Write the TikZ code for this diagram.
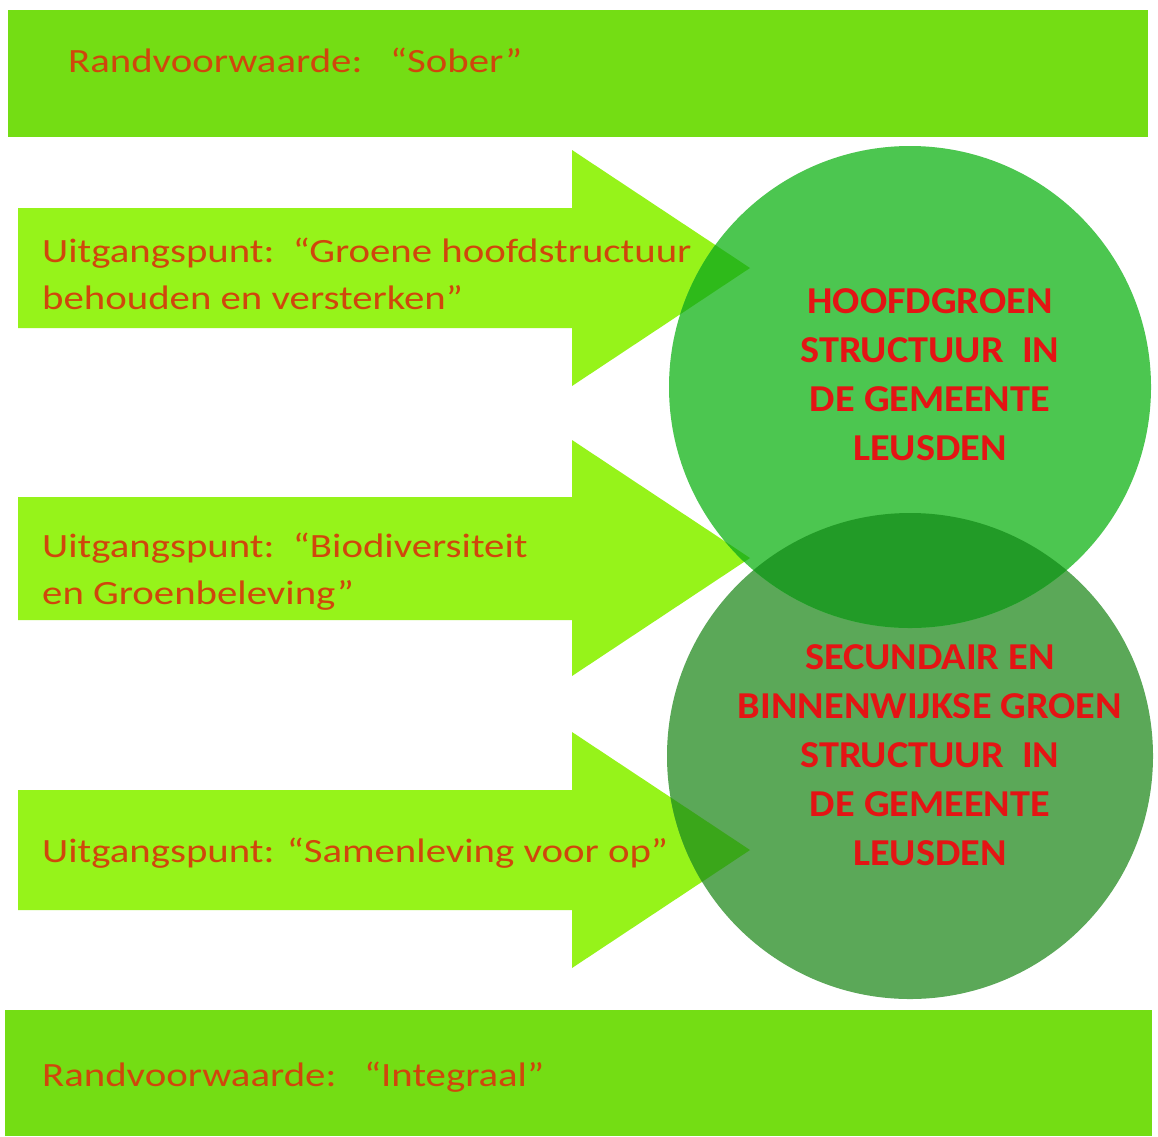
\documentclass[tikz,border=0pt]{standalone}
\usepackage{fontspec}
\setmainfont{Carlito}
\newfontfamily\widefont[FakeStretch=1.2]{Carlito}
\newfontfamily\cwidefont[FakeStretch=1.06]{Carlito}
\definecolor{barc}{HTML}{74DD14}
\definecolor{arrc}{HTML}{96F31A}
\definecolor{cone}{HTML}{4CC650}
\definecolor{ctwo}{HTML}{5BA858}
\definecolor{covl}{HTML}{229B27}
\definecolor{aovlone}{HTML}{2EBA1A}
\definecolor{aovltwo}{HTML}{3AA61A}
\definecolor{txto}{HTML}{D0460C}
\definecolor{txtr}{HTML}{E41414}
\tikzset{
  bar/.style={fill=barc, draw=none},
  arr/.style={fill=arrc, draw=none},
  lbl/.style={text=txto, inner sep=0pt, anchor=base west, align=left, font=\widefont\fontsize{34}{47}\selectfont},
  clbl/.style={text=txtr, inner sep=0pt, align=center, font=\cwidefont\bfseries\fontsize{38}{49}\selectfont},
}
\begin{document}
\begin{tikzpicture}[x=1pt,y=-1pt]
\useasboundingbox (0,0) rectangle (1158,1136);
\fill[white] (0,0) rectangle (1158,1136);
% bars
\fill[bar] (8,10) rectangle (1148,137);
\fill[bar] (5,1010) rectangle (1152,1136);
% arrows
\fill[arr] (18,208) -- (572,208) -- (572,150) -- (750,268) -- (572,386) -- (572,328) -- (18,328) -- cycle;
\fill[arr] (18,497) -- (572,497) -- (572,440) -- (750,558) -- (572,676) -- (572,620) -- (18,620) -- cycle;
\fill[arr] (18,790) -- (572,790) -- (572,732) -- (750,850) -- (572,968) -- (572,910) -- (18,910) -- cycle;
% circles
\node[circle, fill=ctwo, minimum size=486pt, inner sep=0pt] (c2) at (910,756) {};
\node[circle, fill=cone, minimum size=482pt, inner sep=0pt] (c1) at (910,387) {};
% overlaps
\begin{scope}
  \clip (910,387) circle (241);
  \fill[covl] (910,756) circle (243);
\end{scope}
\begin{scope}
  \clip (910,387) circle (241);
  \fill[aovlone] (18,208) -- (572,208) -- (572,150) -- (750,268) -- (572,386) -- (572,328) -- (18,328) -- cycle;
  \fill[aovlone] (18,497) -- (572,497) -- (572,440) -- (750,558) -- (572,676) -- (572,620) -- (18,620) -- cycle;
\end{scope}
\begin{scope}
  \clip (910,756) circle (243);
  \fill[aovltwo] (18,790) -- (572,790) -- (572,732) -- (750,850) -- (572,968) -- (572,910) -- (18,910) -- cycle;
\end{scope}
% texts
\node[lbl] (t1) at (68,72) {Randvoorwaarde:\ \ \ “Sober”};
\node[lbl] (t2) at (42,309) {Uitgangspunt:\ \ “Groene hoofdstructuur\\behouden en versterken”};
\node[lbl] (t3) at (42,604) {Uitgangspunt:\ \ “Biodiversiteit\\en Groenbeleving”};
\node[lbl] (t4) at (42,862) {Uitgangspunt: “Samenleving voor op”};
\node[lbl] (t5) at (42,1086) {Randvoorwaarde:\ \ \ “Integraal”};
\node[clbl] (k1) at (930,375) {HOOFDGROEN\\STRUCTUUR\ \ IN\\DE GEMEENTE\\LEUSDEN};
\node[clbl] (k2) at (930,755) {SECUNDAIR EN\\BINNENWIJKSE GROEN\\STRUCTUUR\ \ IN\\DE GEMEENTE\\LEUSDEN};
\end{tikzpicture}
\end{document}
